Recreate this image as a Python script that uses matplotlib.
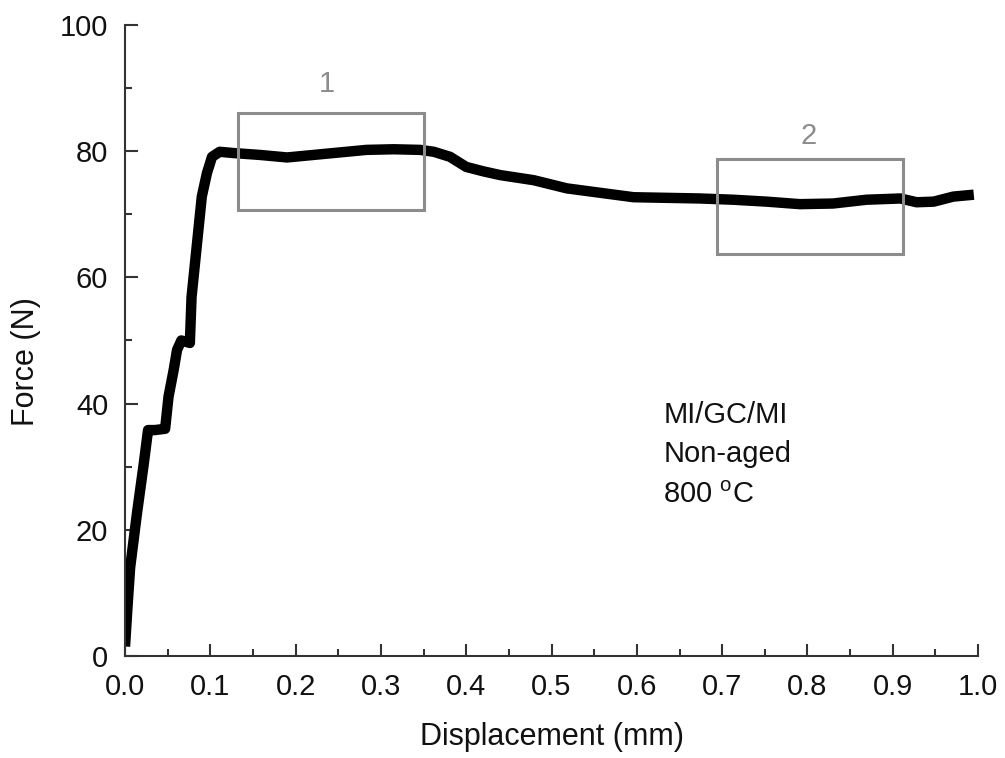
import matplotlib
matplotlib.use("Agg")
import matplotlib.pyplot as plt
from matplotlib.patches import Rectangle
from matplotlib.ticker import MultipleLocator

plt.rcParams['font.family'] = ['Liberation Sans', 'DejaVu Sans']

# --- data ---
displacement = [0.0, 0.003, 0.006, 0.014, 0.022, 0.027, 0.035, 0.047, 0.051, 0.057, 0.061,
                0.066, 0.076, 0.078, 0.082, 0.086, 0.090, 0.096, 0.102, 0.111,
                0.127, 0.158, 0.190, 0.221, 0.252, 0.283, 0.315, 0.346, 0.362,
                0.381, 0.400, 0.420, 0.440, 0.479, 0.518, 0.557, 0.596, 0.635,
                0.674, 0.713, 0.752, 0.791, 0.830, 0.869, 0.909, 0.928, 0.948,
                0.971, 0.995]
force = [1.5, 8.0, 14.0, 22.6, 30.5, 35.8, 35.8, 36.0, 41.1, 45.3, 48.5,
         50.0, 49.6, 56.9, 62.2, 67.5, 72.8, 76.5, 79.1, 79.9,
         79.7, 79.4, 79.0, 79.4, 79.8, 80.2, 80.3, 80.2, 79.9,
         79.1, 77.5, 76.8, 76.2, 75.4, 74.1, 73.4, 72.7, 72.6,
         72.5, 72.3, 72.0, 71.6, 71.7, 72.3, 72.5, 71.9, 72.0,
         72.8, 73.1]

# highlighted regions
box_x0 = [0.1325, 0.694]
box_x1 = [0.3505, 0.9125]
box_y0 = [70.7, 63.7]
box_y1 = [86.05, 78.8]
box_labels = ['1', '2']
box_label_pos = [(0.236, 89.4), (0.801, 81.1)]

note_lines = ['MI/GC/MI', 'Non-aged', r'800 $^\mathregular{o}$C']
note_y = [36.9, 30.7, 24.2]

fig = plt.figure(figsize=(10.05, 7.58), dpi=100)
ax = fig.add_axes([0.1244, 0.1346, 0.8488, 0.8325])

ax.plot(displacement, force, color='black', lw=7.5, solid_capstyle='butt',
        solid_joinstyle='round')

gray = '#8c8c8c'
for x0, x1, y0, y1, lab, (lx, ly) in zip(box_x0, box_x1, box_y0, box_y1,
                                         box_labels, box_label_pos):
    ax.add_patch(Rectangle((x0, y0), x1 - x0, y1 - y0, fill=False,
                           edgecolor=gray, lw=2.2, zorder=3))
    ax.text(lx, ly, lab, color=gray, fontsize=21, ha='center', va='baseline')

for txt, ty in zip(note_lines, note_y):
    ax.text(0.631, ty, txt, fontsize=21, ha='left', va='baseline', color='#111111')

ax.set_xlim(0, 1.0)
ax.set_ylim(0, 100)
ax.xaxis.set_major_locator(MultipleLocator(0.1))
ax.xaxis.set_minor_locator(MultipleLocator(0.05))
ax.yaxis.set_major_locator(MultipleLocator(20))
ax.yaxis.set_minor_locator(MultipleLocator(10))
ax.set_xticklabels([f'{v:.1f}' for v in ax.get_xticks()])

for side in ['top', 'right']:
    ax.spines[side].set_visible(False)
for side in ['left', 'bottom']:
    ax.spines[side].set_linewidth(1.5)
    ax.spines[side].set_color('#333333')

ax.tick_params(which='major', direction='in', length=9, width=1.5,
               colors='#333333', labelcolor='#111111', labelsize=21)
ax.tick_params(which='minor', direction='in', length=5, width=1.5, colors='#333333')
ax.tick_params(axis='x', which='major', pad=12)
ax.tick_params(axis='y', which='major', pad=12)

ax.set_xlabel('Displacement (mm)', fontsize=22, color='#111111')
ax.set_ylabel('Force (N)', fontsize=22, color='#111111')
ax.xaxis.set_label_coords(0.5, -0.105)
ax.yaxis.set_label_coords(-0.099, 0.466)

fig.savefig('out.png', dpi=100)
